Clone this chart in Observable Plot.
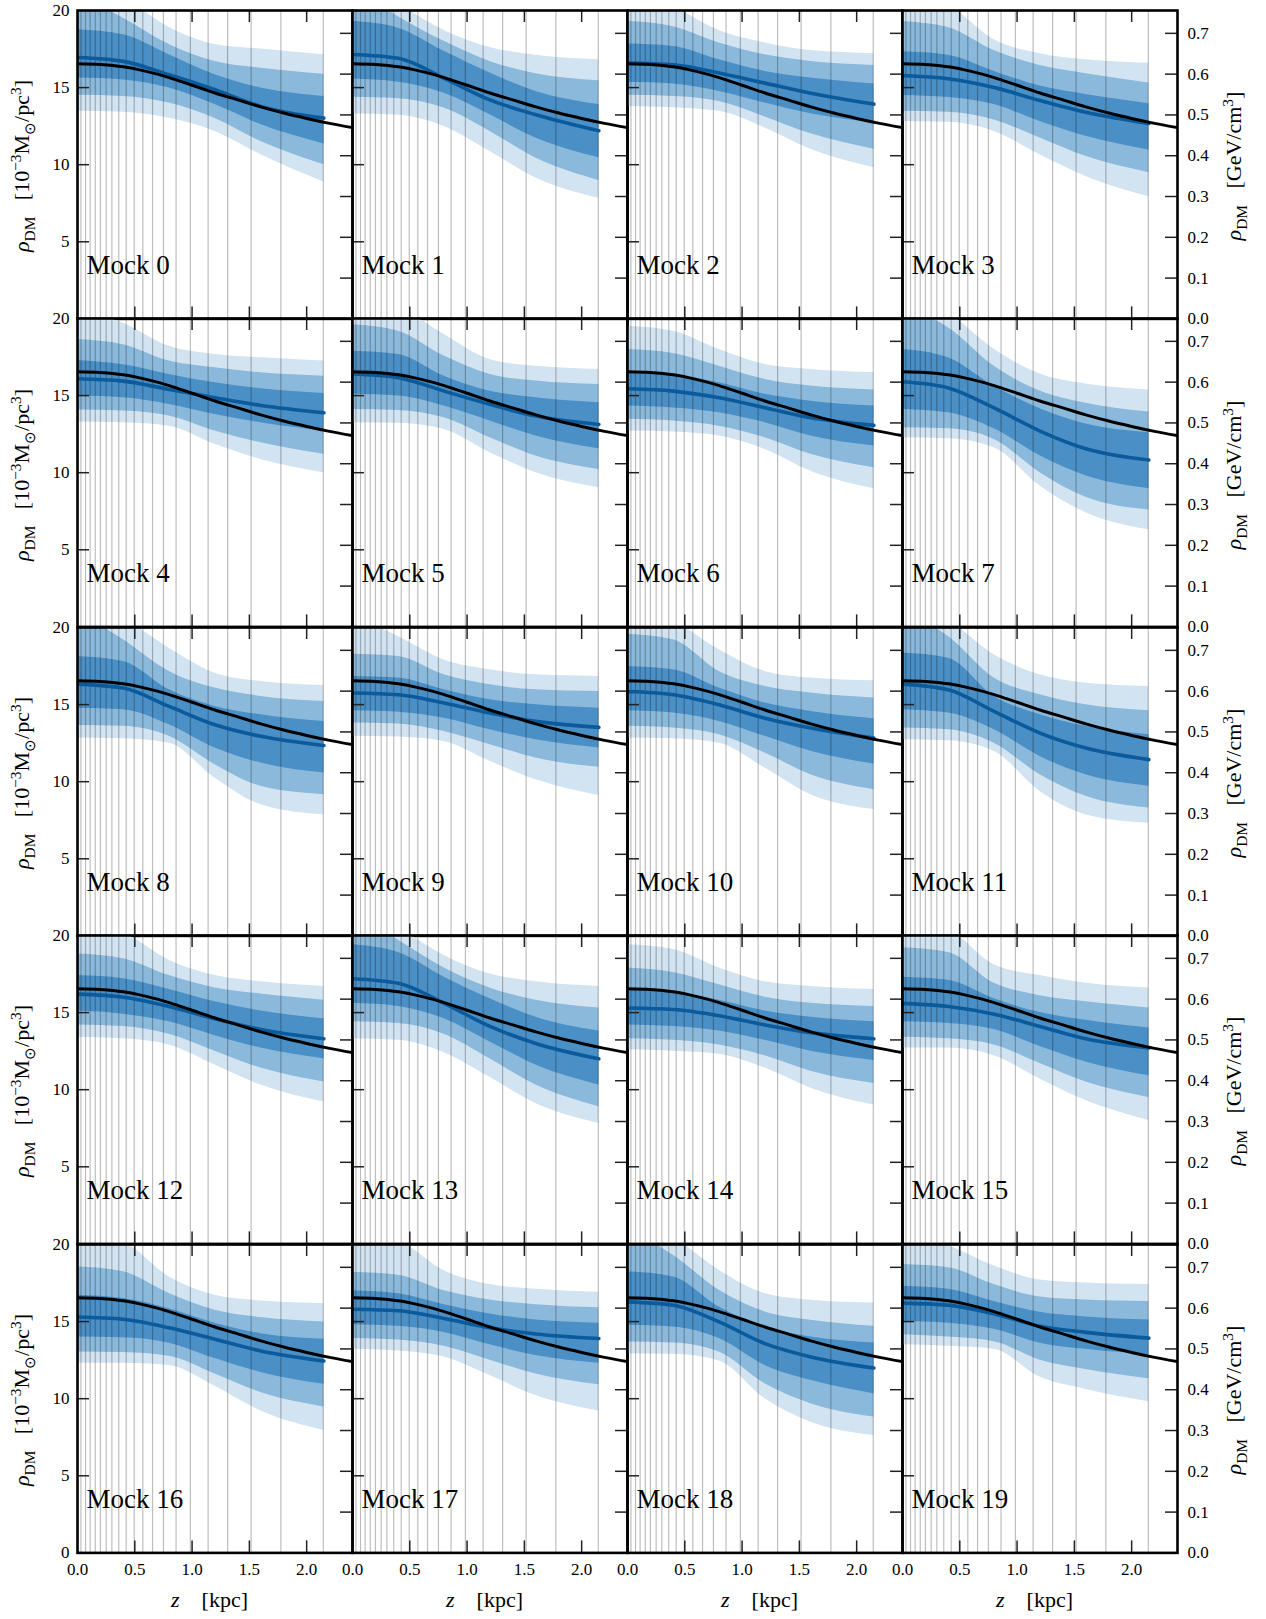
<!DOCTYPE html>
<html><head><meta charset="utf-8">
<script src="https://cdn.jsdelivr.net/npm/d3@7"></script>
<script src="https://cdn.jsdelivr.net/npm/@observablehq/plot@0.6"></script>
<style>
body{margin:0;background:#fff;}
#fig{position:relative;width:1266px;height:1619px;background:#fff;font-family:"Liberation Serif";color:#000;overflow:hidden;}
.panel{position:absolute;}
.panel svg{overflow:visible;display:block;}
.vtitle{position:absolute;white-space:nowrap;font-size:22px;font-family:"Liberation Serif";transform:translate(-50%,-50%) rotate(-90deg);}
.htitle{position:absolute;white-space:nowrap;font-size:22px;font-family:"Liberation Serif";transform:translate(-50%,-50%);}
sub,sup{font-size:70%;}
</style></head><body><div id="fig"></div>
<script>
// ---------------- data ----------------
const zNodes = [0, 0.4, 0.8, 1.2, 1.6, 2.15];
const binEdges = [0.03, 0.07, 0.11, 0.155, 0.2, 0.25, 0.3, 0.36, 0.425, 0.495, 0.57, 0.655, 0.75, 0.86, 0.985, 1.14, 1.31, 1.515, 1.775, 2.145];
const trueZ = [0, 0.2, 0.4, 0.6, 0.8, 1.0, 1.2, 1.4, 1.6, 1.8, 2.0, 2.2, 2.4];
const trueRho = [16.55, 16.5, 16.35, 16.05, 15.65, 15.15, 14.65, 14.2, 13.75, 13.35, 13.0, 12.68, 12.4];
const mockLabels = ["Mock 0","Mock 1","Mock 2","Mock 3","Mock 4","Mock 5","Mock 6","Mock 7","Mock 8","Mock 9","Mock 10","Mock 11","Mock 12","Mock 13","Mock 14","Mock 15","Mock 16","Mock 17","Mock 18","Mock 19"];
const yTickLabels = [5, 10, 15, 20];
const yTickLabelsLast = [0, 5, 10, 15, 20];
const yTickMarks = [5, 10, 15];
const gevTicks = [0.0, 0.1, 0.2, 0.3, 0.4, 0.5, 0.6, 0.7];
const xTicks = [0.0, 0.5, 1.0, 1.5, 2.0];
const xInnerTicks = [0.5, 1.0, 1.5, 2.0];
const GEV_PER_UNIT = 0.0378; // GeV/cm^3 per 1e-3 Msun/pc^3

// outer (pale) band upper / lower
const outerHi = [
 [22, 20.8, 18.9, 17.8, 17.5, 17.13],
 [23, 20.5, 18.7, 17.6, 17.1, 16.8],
 [22, 20.3, 18.7, 17.9, 17.4, 17.2],
 [21.5, 20.4, 18.1, 17.2, 16.8, 16.58],
 [20.6, 19.7, 18.2, 17.67, 17.45, 17.24],
 [22, 20.8, 18.96, 17.34, 16.9, 16.7],
 [19.5, 19.18, 17.99, 17.02, 16.7, 16.48],
 [22, 20.4, 18.0, 16.4, 15.75, 15.36],
 [22, 20.6, 18.66, 17.04, 16.5, 16.24],
 [20.8, 19.42, 17.9, 17.26, 16.93, 16.83],
 [22, 20.5, 18.55, 17.15, 16.72, 16.54],
 [22, 20.5, 18.23, 16.93, 16.39, 16.18],
 [21, 20.2, 18.4, 17.4, 17.0, 16.7],
 [23, 20.6, 18.7, 17.5, 17.0, 16.7],
 [19.4, 19.1, 17.9, 17.0, 16.7, 16.5],
 [21.5, 20.5, 18.1, 17.4, 16.9, 16.6],
 [20.5, 20.1, 17.9, 16.71, 16.34, 16.17],
 [21, 20.3, 18.3, 17.4, 17.1, 16.9],
 [22, 20.5, 18.33, 16.82, 16.39, 16.21],
 [20.5, 19.9, 18.6, 17.7, 17.5, 17.4]
];
const midHi = [
 [21, 19.5, 17.8, 16.7, 16.26, 15.87],
 [21.5, 19.6, 18.0, 16.7, 15.9, 15.44],
 [19.3, 18.95, 17.9, 17.13, 16.7, 16.44],
 [19.29, 18.9, 17.4, 16.43, 15.9, 15.3],
 [18.64, 18.3, 17.24, 16.8, 16.48, 16.26],
 [19.6, 19.18, 17.56, 16.37, 15.94, 15.72],
 [17.99, 17.73, 16.91, 16.05, 15.62, 15.36],
 [20.8, 19.4, 16.9, 15.3, 14.5, 13.93],
 [21, 19.2, 17.15, 16.07, 15.53, 15.2],
 [18.27, 18.12, 16.93, 16.28, 15.96, 15.85],
 [19.57, 19.2, 17.15, 16.18, 15.75, 15.42],
 [21, 19.42, 16.72, 15.64, 14.99, 14.6],
 [18.8, 18.5, 17.4, 16.6, 16.2, 15.8],
 [21.5, 19.7, 17.9, 16.6, 15.8, 15.3],
 [17.9, 17.6, 16.8, 16.0, 15.6, 15.4],
 [19.2, 18.9, 16.9, 16.1, 15.7, 15.3],
 [18.55, 18.23, 16.82, 15.74, 15.26, 14.98],
 [18.2, 18.0, 17.0, 16.4, 16.1, 15.9],
 [21, 19.3, 17.03, 15.63, 15.09, 14.7],
 [18.7, 18.5, 17.4, 16.6, 16.4, 16.3]
];
const innerHi = [
 [18.75, 18.42, 17.13, 15.83, 14.97, 14.43],
 [19.3, 18.85, 17.35, 15.94, 14.75, 13.9],
 [17.82, 17.67, 16.8, 16.05, 15.62, 15.23],
 [17.32, 17.1, 16.05, 15.1, 14.55, 13.96],
 [17.28, 17.0, 16.37, 15.83, 15.44, 15.14],
 [17.88, 17.67, 16.26, 15.29, 14.86, 14.54],
 [16.59, 16.37, 15.83, 15.08, 14.64, 14.32],
 [17.99, 17.45, 15.6, 14.15, 13.15, 12.59],
 [18.12, 17.8, 15.96, 14.88, 14.34, 13.9],
 [16.82, 16.72, 15.96, 15.31, 14.99, 14.77],
 [17.47, 17.26, 16.07, 15.1, 14.56, 14.08],
 [18.34, 18.01, 15.53, 14.34, 13.59, 13.05],
 [17.4, 17.2, 16.5, 15.7, 15.1, 14.6],
 [19.4, 18.9, 17.3, 15.9, 14.7, 13.8],
 [16.5, 16.3, 15.8, 15.1, 14.7, 14.4],
 [17.3, 17.1, 15.9, 15.0, 14.5, 14.0],
 [16.71, 16.5, 15.84, 14.9, 14.22, 13.85],
 [17.0, 16.8, 16.1, 15.5, 15.1, 14.9],
 [18.23, 17.9, 15.95, 14.65, 14.0, 13.61],
 [17.3, 17.1, 16.3, 15.6, 15.3, 15.1]
];
const median = [
 [16.95, 16.7, 15.83, 14.86, 13.78, 13.02],
 [17.15, 16.9, 15.6, 14.2, 13.24, 12.2],
 [16.59, 16.48, 15.94, 15.29, 14.64, 13.93],
 [15.78, 15.57, 15.0, 14.16, 13.4, 12.67],
 [16.09, 15.94, 15.4, 14.86, 14.36, 13.89],
 [16.4, 16.16, 15.29, 14.43, 13.67, 13.13],
 [15.44, 15.29, 14.86, 14.21, 13.56, 13.07],
 [15.9, 15.5, 14.2, 12.7, 11.55, 10.82],
 [16.33, 16.07, 14.88, 13.69, 12.94, 12.35],
 [15.75, 15.64, 15.1, 14.45, 13.91, 13.52],
 [15.85, 15.64, 14.99, 14.12, 13.48, 12.83],
 [16.33, 15.96, 14.56, 13.15, 12.18, 11.43],
 [16.2, 16.0, 15.4, 14.6, 13.9, 13.3],
 [17.2, 16.9, 15.6, 14.1, 13.0, 12.0],
 [15.3, 15.2, 14.8, 14.2, 13.7, 13.3],
 [15.6, 15.4, 14.9, 14.1, 13.3, 12.7],
 [15.3, 15.15, 14.6, 13.85, 13.1, 12.45],
 [15.8, 15.7, 15.2, 14.6, 14.2, 13.9],
 [16.28, 16.06, 14.98, 13.57, 12.71, 11.99],
 [16.2, 16.07, 15.5, 14.7, 14.3, 13.93]
];
const innerLo = [
 [15.62, 15.5, 14.97, 13.9, 12.6, 11.34],
 [15.55, 15.35, 14.64, 13.24, 11.73, 10.45],
 [15.35, 15.23, 14.75, 14.0, 13.3, 12.7],
 [14.49, 14.36, 13.9, 12.8, 11.84, 10.95],
 [14.97, 14.86, 14.43, 13.78, 13.24, 12.7],
 [15.08, 14.97, 14.32, 13.35, 12.38, 11.55],
 [14.32, 14.2, 13.89, 13.24, 12.38, 11.73],
 [14.1, 13.89, 12.85, 11.1, 9.8, 8.96],
 [14.77, 14.67, 13.69, 12.18, 11.21, 10.56],
 [14.6, 14.51, 14.12, 13.37, 12.72, 12.18],
 [14.6, 14.45, 13.91, 12.94, 11.97, 11.14],
 [14.67, 14.45, 13.37, 11.64, 10.45, 9.7],
 [15.1, 14.9, 14.4, 13.5, 12.7, 12.0],
 [15.6, 15.4, 14.6, 13.1, 11.6, 10.3],
 [14.2, 14.1, 13.8, 13.2, 12.5, 11.9],
 [14.4, 14.3, 13.9, 12.8, 11.8, 10.9],
 [14.0, 13.95, 13.6, 12.6, 11.7, 10.93],
 [14.8, 14.7, 14.3, 13.5, 12.8, 12.3],
 [14.76, 14.65, 13.9, 12.16, 11.19, 10.32],
 [15.0, 14.9, 14.5, 13.6, 13.2, 12.85]
];
const midLo = [
 [14.5, 14.43, 14.0, 13.0, 11.5, 10.0],
 [14.37, 14.28, 13.67, 12.16, 10.43, 8.97],
 [14.5, 14.43, 14.1, 13.1, 12.0, 11.0],
 [13.46, 13.4, 12.9, 11.73, 10.54, 9.48],
 [14.06, 14.0, 13.67, 12.7, 11.94, 11.19],
 [14.1, 14.04, 13.56, 12.27, 11.08, 10.2],
 [13.46, 13.35, 13.02, 12.27, 11.19, 10.32],
 [12.92, 12.85, 12.16, 10.0, 8.4, 7.58],
 [13.65, 13.59, 12.94, 11.1, 9.7, 9.16],
 [13.8, 13.74, 13.26, 12.4, 11.53, 10.93],
 [13.59, 13.48, 13.05, 11.86, 10.45, 9.48],
 [13.48, 13.37, 12.5, 10.45, 9.05, 8.29],
 [14.2, 14.1, 13.6, 12.5, 11.4, 10.5],
 [14.4, 14.3, 13.6, 12.0, 10.3, 8.9],
 [13.3, 13.2, 12.9, 12.2, 11.2, 10.4],
 [13.4, 13.3, 12.9, 11.7, 10.5, 9.5],
 [13.03, 12.99, 12.75, 11.6, 10.4, 9.46],
 [13.9, 13.8, 13.4, 12.5, 11.6, 10.9],
 [13.68, 13.61, 13.03, 10.97, 9.68, 8.81],
 [14.15, 14.0, 13.7, 12.5, 11.9, 11.3]
];
const outerLo = [
 [13.46, 13.4, 13.02, 12.16, 10.65, 8.88],
 [13.3, 13.2, 12.48, 10.86, 9.14, 7.82],
 [13.78, 13.7, 13.46, 12.38, 11.0, 9.8],
 [12.8, 12.76, 12.16, 10.65, 9.24, 7.92],
 [13.28, 13.24, 13.02, 11.84, 10.86, 10.0],
 [13.24, 13.2, 12.8, 11.3, 10.0, 9.03],
 [12.7, 12.64, 12.38, 11.51, 10.1, 8.96],
 [12.27, 12.2, 11.62, 9.14, 7.41, 6.3],
 [12.83, 12.79, 12.5, 10.24, 8.51, 7.86],
 [12.94, 12.9, 12.61, 11.32, 10.13, 9.11],
 [12.83, 12.79, 12.5, 10.89, 9.16, 8.19],
 [12.72, 12.66, 11.97, 9.37, 7.86, 7.3],
 [13.4, 13.3, 12.9, 11.6, 10.3, 9.2],
 [13.3, 13.2, 12.4, 10.8, 9.1, 7.8],
 [12.6, 12.5, 12.3, 11.4, 10.1, 9.0],
 [12.7, 12.7, 12.2, 10.7, 9.3, 8.0],
 [12.3, 12.3, 12.15, 10.8, 9.2, 7.94],
 [13.2, 13.1, 12.7, 11.5, 10.2, 9.2],
 [12.92, 12.88, 12.45, 10.0, 8.48, 7.62],
 [13.5, 13.4, 13.2, 11.4, 10.6, 9.8]
];

// ---------------- layout / style ----------------
const W = 275, H = 308.4, LEFT = 77, TOP = 10, NCOL = 4, NROW = 5;
const C_PALE = "#d2e3f1", C_MID = "#8bb9db", C_DARK = "#4a8fc5", C_MED = "#0a5a9c";
const TICK = 12;
const FONT = "'Liberation Serif'";
const curve = "monotone-x";
const fig = document.getElementById("fig");
const trueRows = trueZ.map((z, j) => ({z, rho: trueRho[j]}));

for (let i = 0; i < 20; i++) {
  const r = Math.floor(i / NCOL), c = i % NCOL;
  const rows = zNodes.map((z, j) => ({
    z, oHi: outerHi[i][j], mHi: midHi[i][j], iHi: innerHi[i][j], med: median[i][j],
    iLo: innerLo[i][j], mLo: midLo[i][j], oLo: outerLo[i][j]
  }));
  const marks = [
    Plot.areaY(rows, {x: "z", y1: "oLo", y2: "oHi", fill: C_PALE, curve, clip: true}),
    Plot.areaY(rows, {x: "z", y1: "mLo", y2: "mHi", fill: C_MID, curve, clip: true}),
    Plot.areaY(rows, {x: "z", y1: "iLo", y2: "iHi", fill: C_DARK, curve, clip: true}),
    Plot.ruleX(binEdges, {x: d => d, stroke: "#000", strokeOpacity: 0.26, strokeWidth: 1.2}),
    Plot.line(rows, {x: "z", y: "med", stroke: C_MED, strokeWidth: 3.6, curve, clip: true}),
    Plot.line(trueRows, {x: "z", y: "rho", stroke: "#000", strokeWidth: 3, curve, clip: true}),
    Plot.ruleY(yTickMarks, {y: d => d, insetRight: W - TICK, stroke: "#222", strokeWidth: 1.5}),
    Plot.ruleY(gevTicks.slice(1), {y: d => d / GEV_PER_UNIT, insetLeft: W - TICK, stroke: "#222", strokeWidth: 1.5}),
    Plot.ruleX(xInnerTicks, {x: d => d, insetTop: H - TICK, stroke: "#222", strokeWidth: 1.5}),
    Plot.ruleX(xInnerTicks, {x: d => d, insetBottom: H - TICK, stroke: "#222", strokeWidth: 1.5}),
    Plot.frame({stroke: "#000", strokeWidth: 2.6}),
    Plot.text([mockLabels[i]], {text: d => d, frameAnchor: "bottom-left", dx: 9, dy: -45, textAnchor: "start", lineAnchor: "bottom", fontSize: 27, fontFamily: FONT})
  ];
  if (c === 0) {
    marks.push(Plot.text(r === NROW - 1 ? yTickLabelsLast : yTickLabels, {
      y: d => d, text: d => String(d), frameAnchor: "left", dx: -8, textAnchor: "end", fontSize: 17, fontFamily: FONT}));
  }
  if (c === NCOL - 1) {
    marks.push(Plot.text(gevTicks, {
      y: d => d / GEV_PER_UNIT, text: d => d.toFixed(1), frameAnchor: "right", dx: 10, textAnchor: "start", fontSize: 17, fontFamily: FONT}));
  }
  if (r === NROW - 1) {
    marks.push(Plot.text(xTicks, {
      x: d => d, text: d => d.toFixed(1), frameAnchor: "bottom", dy: 22, fontSize: 17, fontFamily: FONT}));
  }
  const svg = Plot.plot({
    width: W, height: H,
    marginLeft: 0, marginRight: 0, marginTop: 0, marginBottom: 0,
    x: {domain: [0, 2.4], axis: null},
    y: {domain: [0, 20], axis: null},
    style: {overflow: "visible", background: "transparent", fontFamily: FONT, color: "#000"},
    marks
  });
  const div = document.createElement("div");
  div.className = "panel";
  div.style.left = (LEFT + c * W) + "px";
  div.style.top = (TOP + r * H) + "px";
  div.appendChild(svg);
  fig.appendChild(div);
}

// axis titles
for (let r = 0; r < NROW; r++) {
  const cy = TOP + r * H + H / 2;
  const lt = document.createElement("div");
  lt.className = "vtitle";
  lt.style.left = "23px"; lt.style.top = (cy + 2) + "px";
  lt.innerHTML = "<i>ρ</i><sub>DM</sub>&nbsp;&nbsp;&nbsp;[10<sup>−3</sup>M<sub>⊙</sub>/pc<sup>3</sup>]";
  fig.appendChild(lt);
  const rt = document.createElement("div");
  rt.className = "vtitle";
  rt.style.left = "1235px"; rt.style.top = (cy + 2) + "px";
  rt.innerHTML = "<i>ρ</i><sub>DM</sub>&nbsp;&nbsp;&nbsp;[GeV/cm<sup>3</sup>]";
  fig.appendChild(rt);
}
for (let c = 0; c < NCOL; c++) {
  const bt = document.createElement("div");
  bt.className = "htitle";
  bt.style.left = (LEFT + c * W + W / 2 - 5) + "px";
  bt.style.top = "1600px";
  bt.innerHTML = "<i>z</i>&nbsp;&nbsp;&nbsp;&nbsp;[kpc]";
  fig.appendChild(bt);
}
</script></body></html>
